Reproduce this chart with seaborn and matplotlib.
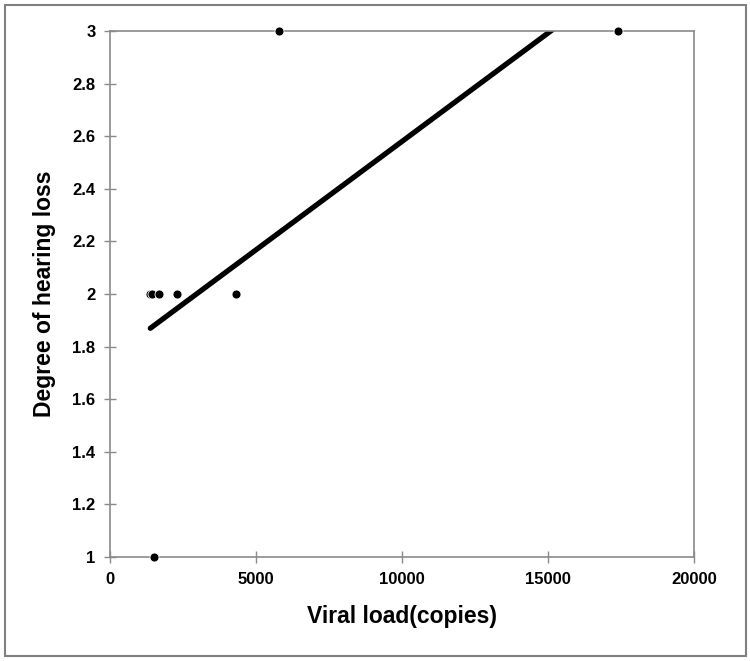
import matplotlib
matplotlib.use("Agg")
import matplotlib.pyplot as plt
import matplotlib.patches as mpatches
import pandas as pd
import seaborn as sns

# --- Data ---
viral_load = [1380, 1450, 1680, 2300, 4300, 5800, 17400, 1500]
hearing_loss = [2, 2, 2, 2, 2, 3, 3, 1]
x_ticks = [0, 5000, 10000, 15000, 20000]
y_ticks = [1, 1.2, 1.4, 1.6, 1.8, 2, 2.2, 2.4, 2.6, 2.8, 3]
y_tick_labels = ["1", "1.2", "1.4", "1.6", "1.8", "2", "2.2", "2.4", "2.6", "2.8", "3"]

df = pd.DataFrame({"viral_load": viral_load, "hearing_loss": hearing_loss})

sns.set_style("white")
plt.rcParams["font.family"] = ["Liberation Sans", "DejaVu Sans"]

fig = plt.figure(figsize=(7.5, 6.61), dpi=100)
ax = fig.add_axes([0.1467, 0.1573, 0.7786, 0.7957])

sns.regplot(
    data=df, x="viral_load", y="hearing_loss", ax=ax, ci=None,
    scatter_kws={"s": 42, "color": "black", "edgecolors": "white",
                 "linewidths": 0.6, "alpha": 1, "zorder": 3, "clip_on": False},
    line_kws={"color": "black", "linewidth": 3.8,
              "solid_capstyle": "round", "zorder": 2},
)

ax.set_xlim(0, 20000)
ax.set_ylim(1, 3)
ax.set_xticks(x_ticks)
ax.set_xticklabels([str(t) for t in x_ticks])
ax.set_yticks(y_ticks)
ax.set_yticklabels(y_tick_labels)

for side in ["left", "bottom", "top", "right"]:
    ax.spines[side].set_color("#8a8a8a")
    ax.spines[side].set_linewidth(1.2)
    ax.spines[side].set_visible(True)

ax.tick_params(axis="both", which="major", direction="inout", length=9,
               width=1.0, color="#8a8a8a", labelsize=12, pad=6,
               labelcolor="black",
               bottom=True, left=True, top=False, right=False)
for lab in ax.get_xticklabels() + ax.get_yticklabels():
    lab.set_fontweight("bold")

ax.set_xlabel("Viral load(copies)", fontsize=16.5, fontweight="bold",
              labelpad=13, color="black")
ax.set_ylabel("Degree of hearing loss", fontsize=16.5, fontweight="bold",
              labelpad=12, color="black")

# outer frame around the whole figure
frame = mpatches.Rectangle((0.006, 0.008), 0.988, 0.985, transform=fig.transFigure,
                           fill=False, edgecolor="#808080", linewidth=1.5)
fig.patches.append(frame)

fig.savefig("out.png", dpi=100)
